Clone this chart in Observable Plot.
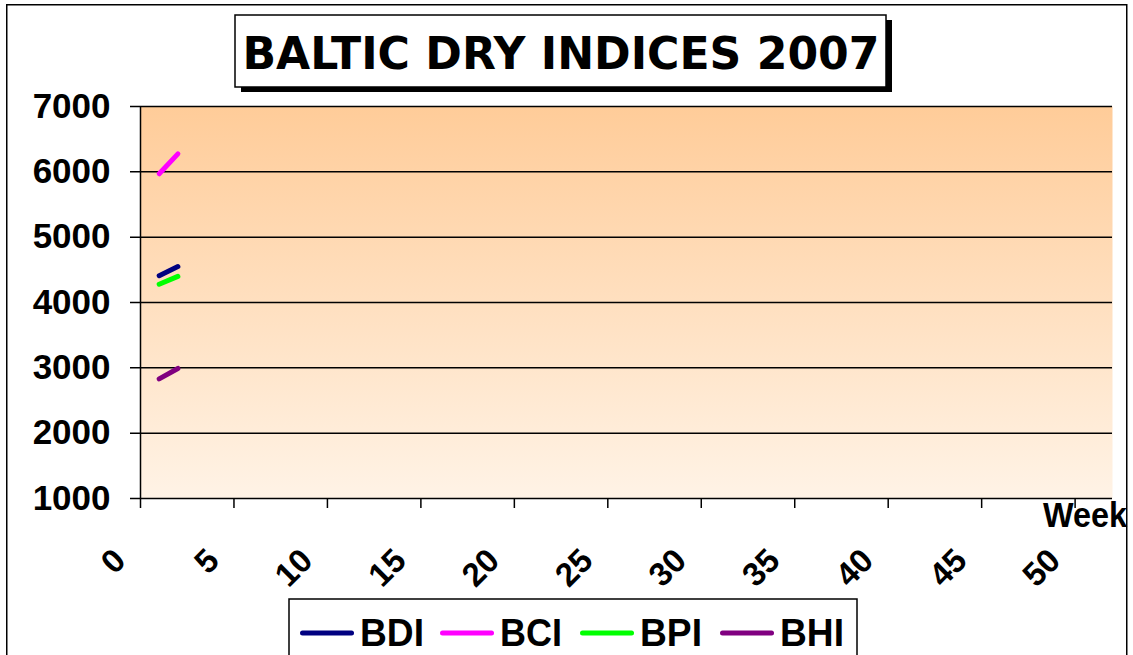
<!DOCTYPE html>
<html><head><meta charset="utf-8">
<script src="https://cdn.jsdelivr.net/npm/d3@7"></script>
<script src="https://cdn.jsdelivr.net/npm/@observablehq/plot@0.6"></script>
<style>
html,body{margin:0;padding:0;overflow:hidden;background:#fff;}
#wrap{position:relative;width:1133px;height:655px;overflow:hidden;}
#wrap > svg{position:absolute;left:0;top:0;}
</style></head><body><div id="wrap"></div>
<script>
// ---- data ----
const weeks = [1, 2];
const seriesNames = ["BDI", "BCI", "BPI", "BHI"];
const seriesColors = ["#000080", "#FF00FF", "#00FF00", "#800080"];
const bdi = [4410, 4550];
const bci = [5970, 6275];
const bpi = [4280, 4400];
const bhi = [2830, 2990];
const xTicks = [0, 5, 10, 15, 20, 25, 30, 35, 40, 45, 50];
const yTicks = [1000, 2000, 3000, 4000, 5000, 6000, 7000];
const titleText = "BALTIC DRY INDICES 2007";
const xLabel = "Week";

const values = [bdi, bci, bpi, bhi];
const rows = seriesNames.flatMap((name, i) =>
  weeks.map((w, j) => ({series: name, week: w, value: values[i][j]})));

const W = 1133, H = 655;
const FONT = "'Liberation Sans', Arial, sans-serif";

const chart = Plot.plot({
  width: W, height: H,
  marginLeft: 140, marginRight: 21, marginTop: 106, marginBottom: 157,
  style: {fontFamily: FONT, background: "transparent", overflow: "visible"},
  x: {domain: [0, 52], label: null},
  y: {domain: [1000, 7000], axis: null, label: null},
  color: {domain: seriesNames, range: seriesColors},
  marks: [
    Plot.frame({fill: "url(#bgGrad)", stroke: "none"}),
    Plot.ruleY(yTicks, {stroke: "#000", strokeWidth: 1.5, insetLeft: -10}),
    Plot.ruleX([0], {stroke: "#000", strokeWidth: 1.5}),
    Plot.axisX({ticks: xTicks, tickSize: 10, tickFormat: () => "", label: null, stroke: "#000", strokeWidth: 1.5}),
    Plot.text(yTicks, {
      y: d => d, frameAnchor: "left", text: d => String(d),
      textAnchor: "end", dx: -30, fontSize: 35, fontWeight: "bold", fill: "#000"
    }),
    Plot.text(xTicks, {
      x: d => d, frameAnchor: "bottom", text: d => String(d),
      rotate: -45, textAnchor: "end", lineAnchor: "bottom",
      dx: -13, dy: 64, fontSize: 33, fontWeight: "bold", fill: "#000"
    }),
    Plot.line(rows, {
      x: "week", y: "value", z: "series", stroke: "series",
      strokeWidth: 5, strokeLinecap: "round"
    })
  ]
});

// gradient definition for the plot-area fill
const ns = "http://www.w3.org/2000/svg";
const defs = document.createElementNS(ns, "defs");
const grad = document.createElementNS(ns, "linearGradient");
grad.setAttribute("id", "bgGrad");
grad.setAttribute("x1", "0"); grad.setAttribute("y1", "0");
grad.setAttribute("x2", "0"); grad.setAttribute("y2", "1");
[["0", "#FFCC99"], ["1", "#FFF3E6"]].forEach(([o, c]) => {
  const s = document.createElementNS(ns, "stop");
  s.setAttribute("offset", o); s.setAttribute("stop-color", c);
  grad.appendChild(s);
});
defs.appendChild(grad);
chart.insertBefore(defs, chart.firstChild);

const wrap = document.getElementById("wrap");
wrap.appendChild(chart);

// ---- overlay: border, title, axis label, legend ----
const ov = d3.select(wrap).append("svg")
  .attr("width", W).attr("height", H)
  .style("pointer-events", "none");

ov.append("text")
  .attr("x", 1127).attr("y", 527)
  .attr("text-anchor", "end")
  .attr("font-family", FONT).attr("font-weight", "bold").attr("font-size", 35)
  .attr("textLength", 84).attr("lengthAdjust", "spacingAndGlyphs")
  .text(xLabel);

ov.append("rect")
  .attr("x", 6.75).attr("y", 4.75).attr("width", 1120).attr("height", 700)
  .attr("fill", "none").attr("stroke", "#000").attr("stroke-width", 1.5);

// title box with shadow
ov.append("rect").attr("x", 241).attr("y", 20).attr("width", 651).attr("height", 72).attr("fill", "#000");
ov.append("rect").attr("x", 235).attr("y", 15).attr("width", 651).attr("height", 72)
  .attr("fill", "#fff").attr("stroke", "#000").attr("stroke-width", 1.5);
ov.append("text")
  .attr("x", 561).attr("y", 69)
  .attr("text-anchor", "middle")
  .attr("font-family", "'DejaVu Sans', Verdana, sans-serif")
  .attr("font-weight", "bold").attr("font-size", 44)
  .attr("textLength", 637).attr("lengthAdjust", "spacingAndGlyphs")
  .text(titleText);

// legend
ov.append("rect").attr("x", 289).attr("y", 599).attr("width", 568).attr("height", 100)
  .attr("fill", "#fff").attr("stroke", "#000").attr("stroke-width", 1.5);
seriesNames.forEach((name, i) => {
  const x0 = 300 + i * 140;
  ov.append("line")
    .attr("x1", x0 + 2.5).attr("x2", x0 + 51.5)
    .attr("y1", 633).attr("y2", 633)
    .attr("stroke", seriesColors[i]).attr("stroke-width", 5)
    .attr("stroke-linecap", "round");
  ov.append("text")
    .attr("x", x0 + 60).attr("y", 646)
    .attr("font-family", FONT).attr("font-weight", "bold").attr("font-size", 38)
    .attr("textLength", name === "BPI" || name === "BCI" ? 62 : 64)
    .attr("lengthAdjust", "spacingAndGlyphs")
    .text(name);
});
</script>
</body></html>
